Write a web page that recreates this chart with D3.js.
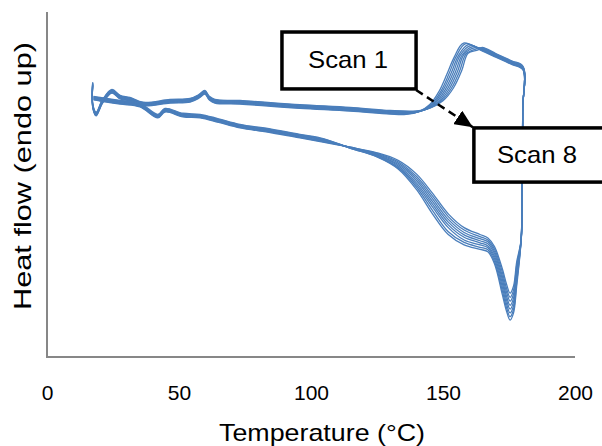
<!DOCTYPE html>
<html>
<head>
<meta charset="utf-8">
<script src="https://cdn.jsdelivr.net/npm/d3@7"></script>
<style>
  body { margin: 0; background: #fff; }
  svg { display: block; }
</style>
</head>
<body>
<div id="chart"></div>
<script>
const width = 602;
const height = 446;

const xTicks = [0, 50, 100, 150, 200];
const scanNames = ["Scan 1", "Scan 2", "Scan 3", "Scan 4", "Scan 5", "Scan 6", "Scan 7", "Scan 8"];

// small offset of each scan's baseline (heat flow units)
const scanShift = [0.00, 0.015, 0.03, 0.045, 0.06, 0.075, 0.09, 0.105];

// heating, start transient + baseline: [temperature, heat flow]
const heatStart = [[17.3, 7.86], [17.4, 7.20], [18.6, 6.99], [21.0, 7.35], [24.6, 7.65], [27.7, 7.48],
  [31.4, 7.42], [36.4, 7.28], [46.6, 7.36], [54.2, 7.39], [57.5, 7.50], [59.8, 7.62], [61.5, 7.45],
  [63.6, 7.36], [73.1, 7.33], [95.8, 7.21], [114.8, 7.13], [130.0, 7.04]];

// melting peak: heat flow levels on the rise, and temperature of each scan at those levels
const riseLevels = [7.03, 7.12, 7.32, 7.70, 8.20, 8.70];
const riseT = [
  [136.0, 141.0, 145.0, 148.5, 151.5, 154.3],
  [136.6, 141.6, 145.7, 149.3, 152.3, 155.0],
  [137.2, 142.3, 146.4, 150.0, 153.1, 155.8],
  [137.8, 142.9, 147.1, 150.8, 153.9, 156.5],
  [138.4, 143.6, 147.9, 151.6, 154.7, 157.3],
  [139.0, 144.2, 148.6, 152.4, 155.5, 158.0],
  [139.6, 144.9, 149.3, 153.2, 156.3, 158.8],
  [140.2, 145.5, 150.0, 154.0, 157.1, 159.5]
];
const peakT = [157.8, 158.6, 159.4, 160.2, 161.0, 161.8, 162.6, 163.3];
const peakV = [9.10, 9.08, 9.05, 9.02, 8.99, 8.96, 8.93, 8.90];

// after the peak, all scans share one line up to the top temperature
const postPeak = [[164.8, 8.87], [170.0, 8.69], [176.0, 8.48], [180.3, 8.32]];

// drop at the top temperature
const drop = [[180.2, 7.20], [180.0, 5.10], [179.6, 3.40]];

// cooling: temperatures and heat flow of each scan
const coolT = [177.9, 176.7, 175.4, 174.1, 172.5, 169.5, 167.0, 164.0, 158.0, 152.0, 146.0, 140.0, 133.0, 125.0, 115.0];
const coolV = [
  [2.75, 2.05, 1.85, 2.10, 2.55, 3.20, 3.45, 3.55, 3.75, 4.15, 4.75, 5.30, 5.70, 5.92, 6.08],
  [2.65, 1.93, 1.73, 1.98, 2.45, 3.13, 3.39, 3.49, 3.68, 4.07, 4.67, 5.23, 5.66, 5.90, 6.08],
  [2.55, 1.82, 1.62, 1.87, 2.34, 3.06, 3.34, 3.43, 3.61, 3.99, 4.59, 5.17, 5.62, 5.88, 6.07],
  [2.45, 1.70, 1.50, 1.75, 2.24, 2.99, 3.28, 3.37, 3.54, 3.91, 4.51, 5.11, 5.58, 5.86, 6.07],
  [2.35, 1.59, 1.39, 1.64, 2.13, 2.92, 3.22, 3.31, 3.47, 3.83, 4.43, 5.04, 5.54, 5.85, 6.06],
  [2.25, 1.48, 1.28, 1.53, 2.02, 2.85, 3.17, 3.25, 3.39, 3.75, 4.35, 4.98, 5.50, 5.83, 6.06],
  [2.15, 1.37, 1.17, 1.42, 1.91, 2.77, 3.11, 3.18, 3.32, 3.63, 4.25, 4.92, 5.48, 5.81, 6.05],
  [2.05, 1.27, 1.07, 1.32, 1.80, 2.70, 3.05, 3.12, 3.25, 3.55, 4.15, 4.85, 5.45, 5.80, 6.05]
];

// cooling baseline back to the start temperature
const coolTail = [[105.0, 6.22], [95.8, 6.35], [85.0, 6.50], [73.1, 6.64], [65.0, 6.80], [58.0, 6.93],
  [51.5, 6.96], [44.7, 7.10], [42.0, 6.93], [35.2, 7.25], [27.7, 7.33], [20.1, 7.42], [17.6, 7.45]];

const svg = d3.select("#chart").append("svg")
  .attr("width", width)
  .attr("height", height)
  .style("font-family", "'Liberation Sans', Arial, sans-serif");

const x = d3.scaleLinear().domain([0, 200]).range([47, 575]);
const y = d3.scaleLinear().domain([0, 10]).range([357, 12]);

// axes (only lines, no y ticks)
svg.append("line")
  .attr("x1", x(0)).attr("x2", x(0))
  .attr("y1", y(10)).attr("y2", y(0))
  .attr("stroke", "#878787").attr("stroke-width", 2);
svg.append("line")
  .attr("x1", x(0) - 1).attr("x2", x(200))
  .attr("y1", y(0)).attr("y2", y(0))
  .attr("stroke", "#878787").attr("stroke-width", 2);

const xAxis = svg.append("g")
  .attr("transform", `translate(0,${y(0)})`)
  .call(d3.axisBottom(x).tickValues(xTicks).tickSize(0).tickPadding(28));
xAxis.select(".domain").remove();
xAxis.selectAll("text")
  .attr("fill", "#000")
  .style("font-size", "21px")
  .style("font-family", "'Liberation Sans', Arial, sans-serif");

svg.append("text")
  .attr("x", 322)
  .attr("y", 441)
  .attr("text-anchor", "middle")
  .style("font-size", "24px")
  .attr("textLength", 206)
  .attr("lengthAdjust", "spacingAndGlyphs")
  .text("Temperature (°C)");

svg.append("text")
  .attr("transform", "translate(31,176) rotate(-90)")
  .attr("text-anchor", "middle")
  .style("font-size", "24px")
  .attr("textLength", 268)
  .attr("lengthAdjust", "spacingAndGlyphs")
  .text("Heat flow (endo up)");

// build every scan as one loop
function scanPoints(s) {
  const sh = scanShift[s];
  const pts = [];
  heatStart.forEach(d => pts.push([d[0], d[1] + sh]));
  riseLevels.forEach((v, i) => pts.push([riseT[s][i], v + sh]));
  pts.push([peakT[s], peakV[s]]);
  postPeak.forEach(d => pts.push([d[0], d[1] + sh]));
  drop.forEach(d => pts.push(d));
  coolT.forEach((t, i) => pts.push([t, coolV[s][i]]));
  coolTail.forEach(d => pts.push([d[0], d[1] + sh]));
  return pts;
}

const line = d3.line()
  .x(d => x(d[0]))
  .y(d => y(d[1]))
  .curve(d3.curveCatmullRom.alpha(0.5));

svg.append("g")
  .selectAll("path")
  .data(scanNames.map((n, i) => ({ name: n, pts: scanPoints(i) })))
  .enter().append("path")
  .attr("d", d => line(d.pts))
  .attr("fill", "none")
  .attr("stroke", "#4A7EBB")
  .attr("stroke-width", 1.3);

// callouts
svg.append("defs").append("marker")
  .attr("id", "arrow")
  .attr("markerUnits", "userSpaceOnUse")
  .attr("markerWidth", 18).attr("markerHeight", 16)
  .attr("refX", 18).attr("refY", 8)
  .attr("orient", "auto")
  .append("path")
  .attr("d", "M0,0 L18,8 L0,16 Z")
  .attr("fill", "#000");

svg.append("line")
  .attr("x1", x(139.8)).attr("y1", y(7.74))
  .attr("x2", x(161.3)).attr("y2", y(6.66))
  .attr("stroke", "#000")
  .attr("stroke-width", 2.5)
  .attr("stroke-dasharray", "8,5")
  .attr("marker-end", "url(#arrow)");

// the second box runs past the right edge of the picture
const boxes = [
  { label: "Scan 1", t0: 89.0, t1: 139.8, v0: 9.42, v1: 7.77, dx: -1 },
  { label: "Scan 8", t0: 161.7, t1: 212.5, v0: 6.64, v1: 5.07, dx: -4 }
];

const callout = svg.append("g").selectAll("g")
  .data(boxes)
  .enter().append("g");

callout.append("rect")
  .attr("x", d => x(d.t0))
  .attr("y", d => y(d.v0))
  .attr("width", d => x(d.t1) - x(d.t0))
  .attr("height", d => y(d.v1) - y(d.v0))
  .attr("fill", "#fff")
  .attr("stroke", "#000")
  .attr("stroke-width", 3.5);

callout.append("text")
  .attr("x", d => (x(d.t0) + x(d.t1)) / 2 + d.dx)
  .attr("y", d => (y(d.v0) + y(d.v1)) / 2 + 8)
  .attr("text-anchor", "middle")
  .style("font-size", "24px")
  .attr("textLength", 80)
  .attr("lengthAdjust", "spacingAndGlyphs")
  .text(d => d.label);
</script>
</body>
</html>
